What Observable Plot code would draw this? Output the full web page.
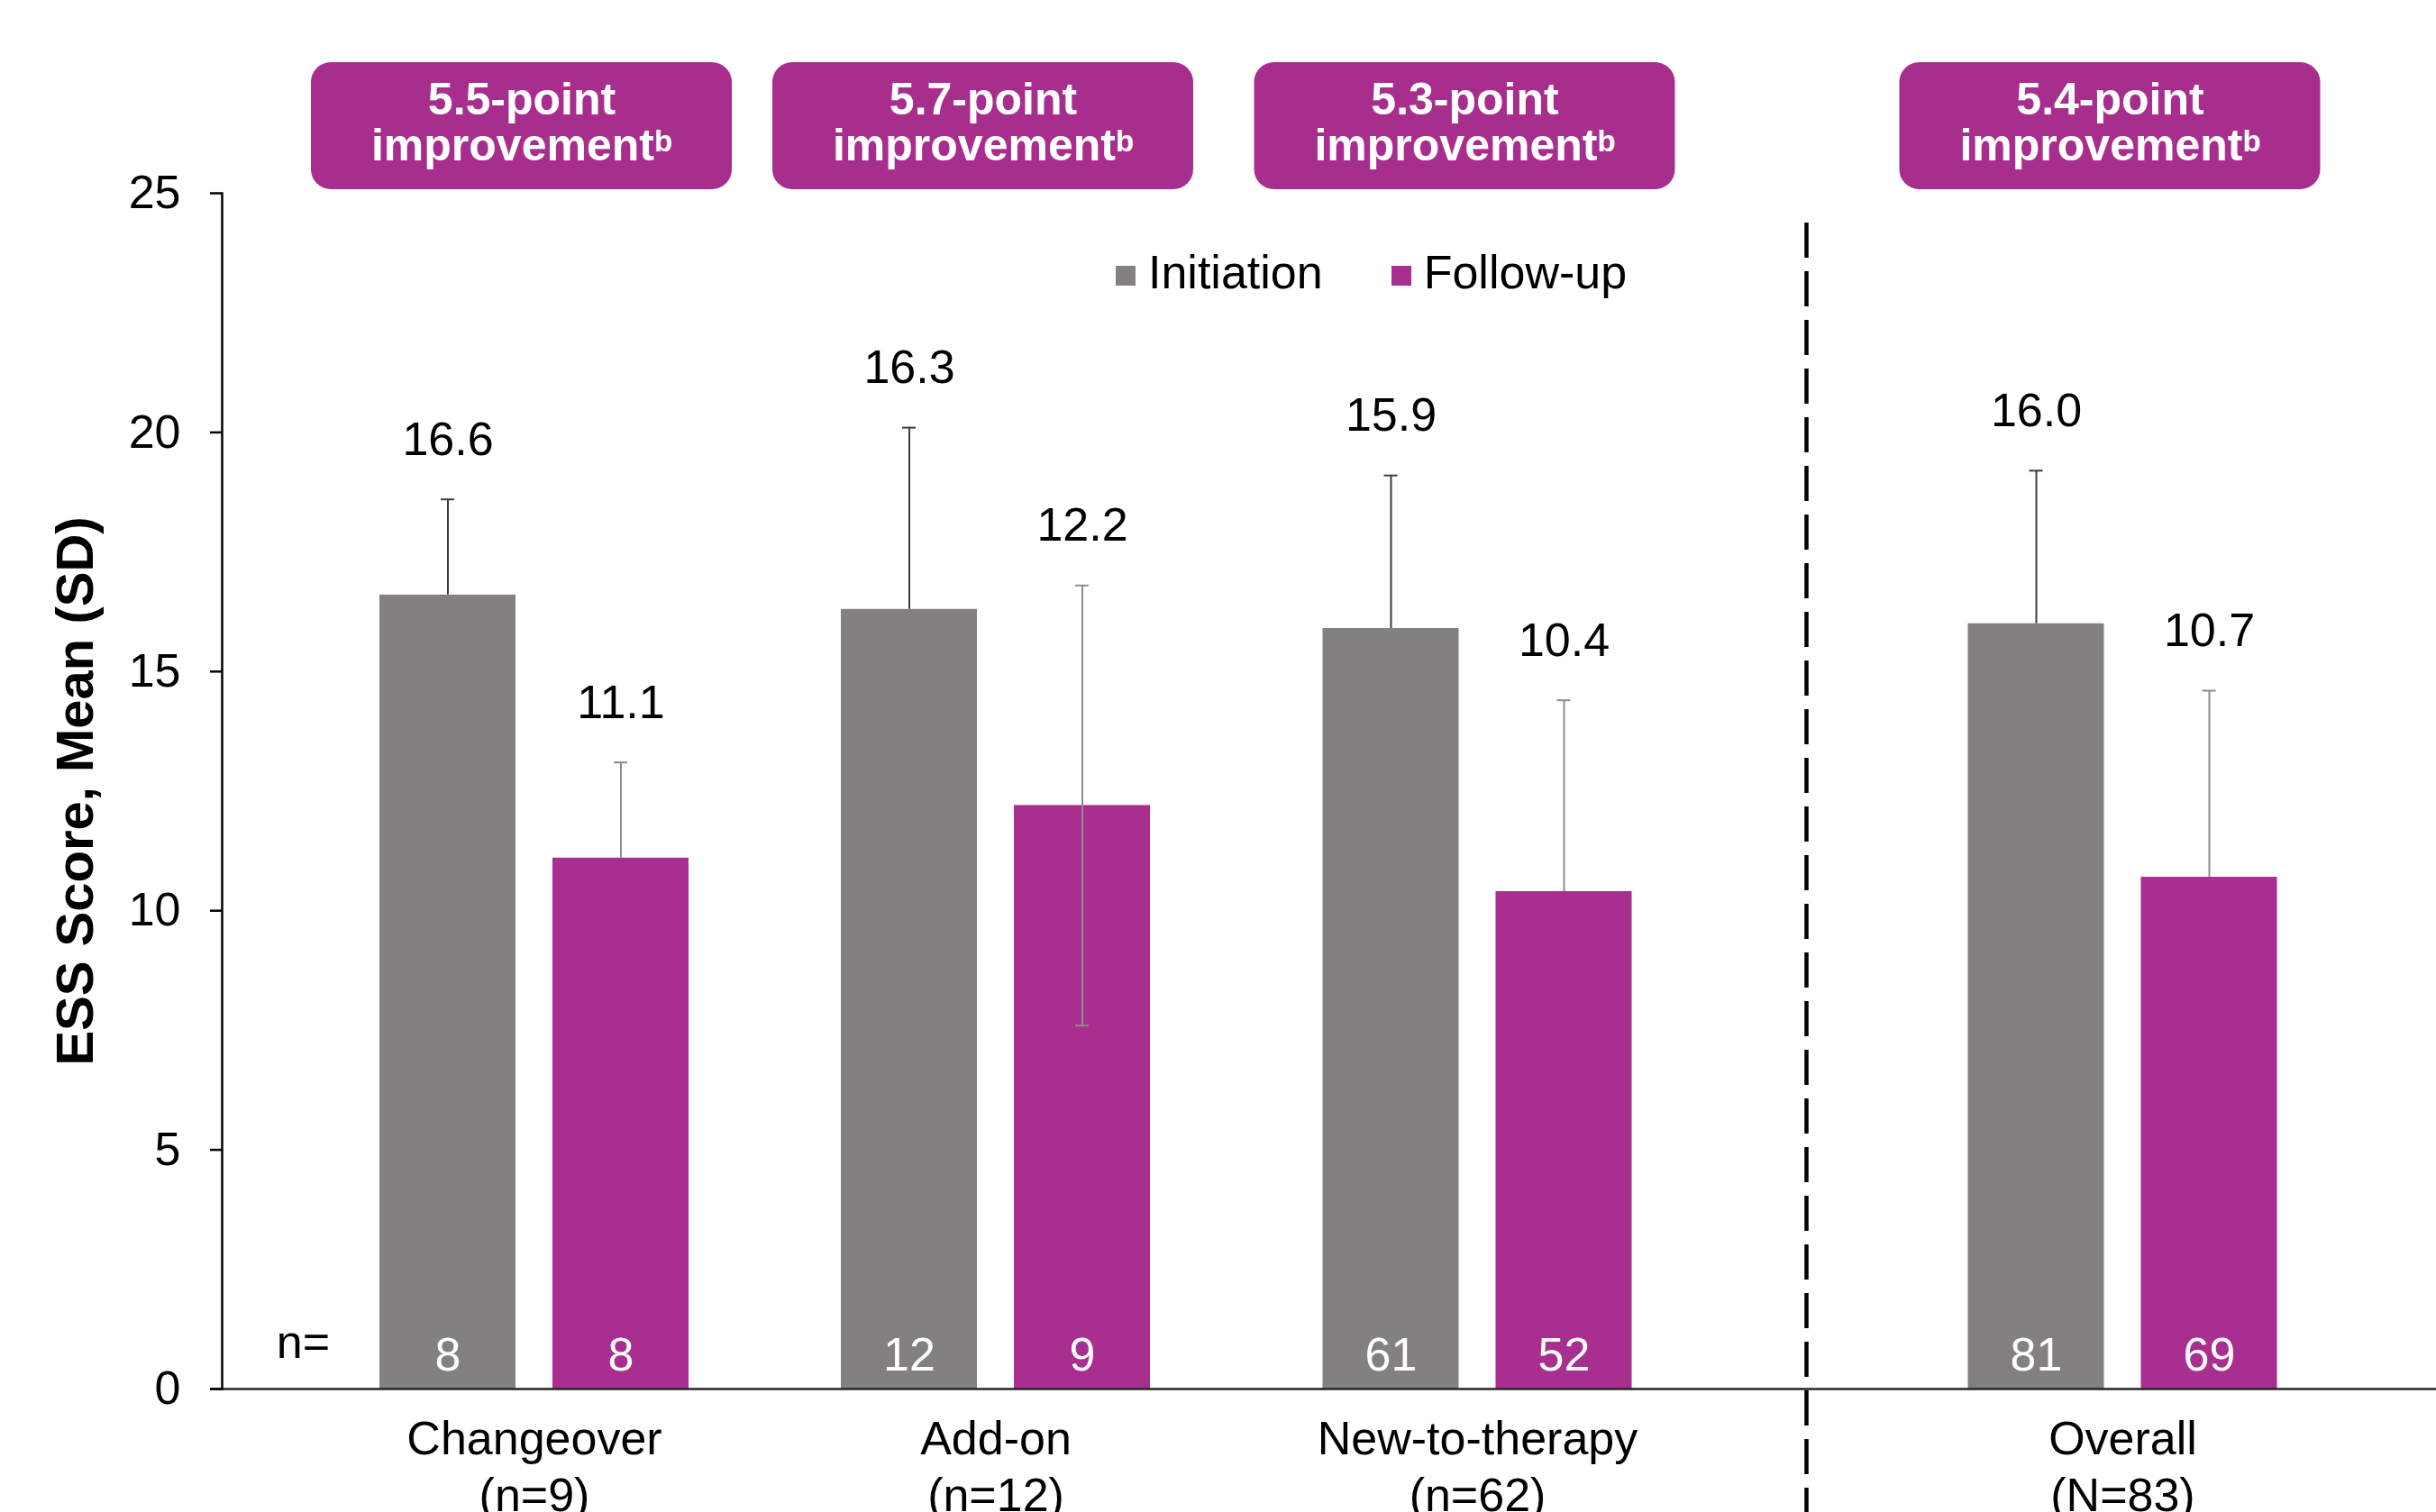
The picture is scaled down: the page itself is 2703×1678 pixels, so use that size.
<!DOCTYPE html>
<html>
<head>
<meta charset="utf-8">
<script src="https://cdn.jsdelivr.net/npm/d3@7"></script>
<script src="https://cdn.jsdelivr.net/npm/@observablehq/plot@0.6"></script>
<style>
  html, body { margin: 0; padding: 0; background: #fff; overflow: hidden; }
  #wrap { position: relative; width: 2703px; height: 1678px; overflow: hidden; font-family: 'Liberation Sans', Arial, sans-serif; }
  #legend { position: absolute; left: 1238px; top: 276px; display: flex; align-items: center; font-size: 52px; line-height: 52px; color: #000; }
  #legend .item { display: flex; align-items: center; margin-right: 76px; }
  #legend .sw { width: 22px; height: 22px; margin-top: 8px; margin-right: 14px; }
</style>
</head>
<body>
<div id="wrap"><div id="legend"></div></div>
<script>
// ---------------- data ----------------
const groups = ["Changeover", "Add-on", "New-to-therapy", "Overall"];
const groupN = ["(n=9)", "(n=12)", "(n=62)", "(N=83)"];
const series = ["Initiation", "Follow-up"];
const initiationMean = [16.6, 16.3, 15.9, 16.0];
const initiationSD = [2.0, 3.8, 3.2, 3.2];
const initiationN = [8, 12, 61, 81];
const followUpMean = [11.1, 12.2, 10.4, 10.7];
const followUpSD = [2.0, 4.6, 4.0, 3.9];
const followUpLowerSD = [null, 4.6, null, null];
const followUpN = [8, 9, 52, 69];
const improvement = ["5.5", "5.7", "5.3", "5.4"];
const yTicks = [0, 5, 10, 15, 20, 25];
const yTitle = "ESS Score, Mean (SD)";

// ---------------- styles / layout ----------------
const seriesColors = ["#82817F", "#A82E8F"];
const errorColors = ["#3C3C3C", "#8C8C8C"];
const boxColor = "#A82E8E";
const W = 2703, H = 1678;
const M = {top: 214, right: 0, bottom: 137, left: 246};
const groupCenters = [592.5, 1104.5, 1639, 2355];   // x-scale range (px)
const barWidth = 151, barOffset = 96, capHalf = 7.5;
const boxTop = 69, boxBottom = 210, boxHalf = 233.5, boxShift = -14;

const rows = [];
groups.forEach((g, i) => {
  rows.push({gi: i, series: series[0], mean: initiationMean[i], sd: initiationSD[i], lower: null, n: initiationN[i]});
  rows.push({gi: i, series: series[1], mean: followUpMean[i], sd: followUpSD[i], lower: followUpLowerSD[i], n: followUpN[i]});
});
const gIdx = groups.map((_, i) => i);
const sepX = (groups.indexOf("New-to-therapy") + groups.indexOf("Overall")) / 2;
const frameBottom = H - M.bottom;

const seriesMarks = series.flatMap((s, k) => {
  const sub = rows.filter(d => d.series === s);
  const off = k === 0 ? -barOffset : barOffset;
  const low = sub.filter(d => d.lower != null);
  return [
    Plot.rect(sub, {x1: "gi", x2: "gi", y1: 0, y2: "mean", fill: "series", dx: off,
      insetLeft: -barWidth / 2, insetRight: -barWidth / 2}),
    Plot.ruleX(sub, {x: "gi", y1: "mean", y2: d => d.mean + d.sd, dx: off, stroke: errorColors[k], strokeWidth: 2}),
    Plot.ruleY(sub, {x1: "gi", x2: "gi", y: d => d.mean + d.sd, dx: off, insetLeft: -capHalf, insetRight: -capHalf,
      stroke: errorColors[k], strokeWidth: 2}),
    Plot.ruleX(low, {x: "gi", y1: d => d.mean - d.lower, y2: "mean", dx: off, stroke: errorColors[k], strokeWidth: 2}),
    Plot.ruleY(low, {x1: "gi", x2: "gi", y: d => d.mean - d.lower, dx: off, insetLeft: -capHalf, insetRight: -capHalf,
      stroke: errorColors[k], strokeWidth: 2}),
    Plot.text(sub, {x: "gi", y: d => d.mean + d.sd, text: d => d.mean.toFixed(1), dx: off, dy: -66, fill: "#000"}),
    Plot.text(sub, {x: "gi", y: 0, text: d => String(d.n), dx: off, dy: -37, fill: "#fff"})
  ];
});

const chart = Plot.plot({
  width: W, height: H,
  marginTop: M.top, marginRight: M.right, marginBottom: M.bottom, marginLeft: M.left,
  style: {fontFamily: "'Liberation Sans', Arial, sans-serif", fontSize: "52px", color: "#000", background: "#fff", overflow: "hidden"},
  x: {type: "linear", domain: gIdx, range: groupCenters},
  y: {domain: [0, 25]},
  color: {domain: series, range: seriesColors},
  marks: [
    // improvement boxes
    Plot.rect(gIdx, {x1: d => d, x2: d => d, dx: boxShift, insetLeft: -boxHalf, insetRight: -boxHalf,
      insetTop: boxTop - M.top, insetBottom: frameBottom - boxBottom, rx: 22, fill: boxColor}),
    Plot.text(gIdx, {x: d => d, frameAnchor: "top", lineAnchor: "middle", dx: boxShift, dy: 136 - M.top,
      text: d => `${improvement[d]}-point\nimprovement`, fill: "#fff", fontWeight: "bold", fontSize: 50, lineHeight: 1.02}),
    ...seriesMarks,
    // x axis line
    Plot.ruleY([0], {insetLeft: -13, stroke: "#262626", strokeWidth: 2.5}),
    // y axis
    Plot.axisY({ticks: yTicks, tickSize: 13, tickPadding: 33, stroke: "#000", strokeWidth: 2.5, label: null, tickFormat: d => String(d)}),
    Plot.frame({anchor: "left", stroke: "#000", strokeWidth: 2.5}),
    // x axis labels
    Plot.axisX({ticks: gIdx, tickSize: 0, tickPadding: 27, lineHeight: 1.22, label: null,
      tickFormat: i => `${groups[i]}\n${groupN[i]}`}),
    // separator
    Plot.ruleX([sepX], {x: d => d, dx: 7, insetTop: 247 - M.top, insetBottom: -(H - frameBottom),
      stroke: "#000", strokeWidth: 4.5, strokeDasharray: "39,15"}),
    // n= label
    Plot.text(["n="], {frameAnchor: "bottom-left", lineAnchor: "middle", textAnchor: "middle", dx: 90, dy: -51, text: d => d, fill: "#000"}),
    // y title
    Plot.text([yTitle], {frameAnchor: "left", lineAnchor: "middle", textAnchor: "middle", rotate: -90, dx: -161.6,
      text: d => d, fontWeight: "bold", fontSize: 58, fill: "#000"})
  ]
});

// superscript "b" after "improvement"
d3.select(chart).selectAll("tspan")
  .filter(function () { return this.textContent === "improvement"; })
  .append("tspan").attr("font-size", 33).attr("dy", -10).text("b");

document.getElementById("wrap").prepend(chart);

// legend
const legend = d3.select("#legend");
series.forEach((s, k) => {
  const item = legend.append("div").attr("class", "item");
  item.append("div").attr("class", "sw").style("background", seriesColors[k]);
  item.append("span").text(s);
});
</script>
</body>
</html>
